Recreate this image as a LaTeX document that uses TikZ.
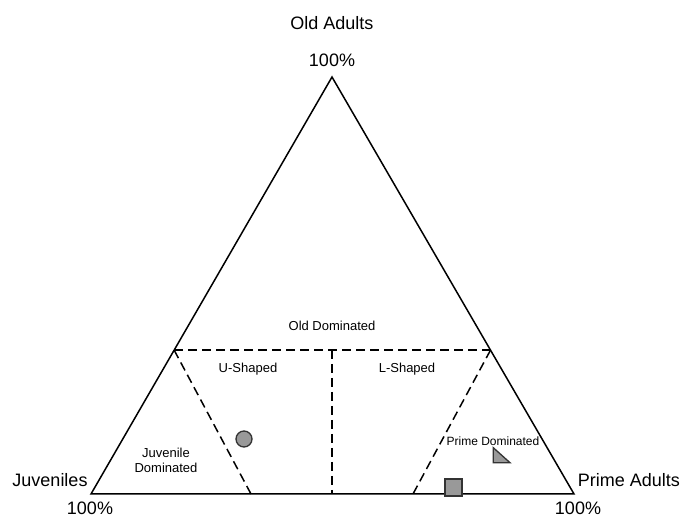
\documentclass[tikz,border=0pt]{standalone}
\usepackage{fontspec}
\setmainfont{Liberation Sans}
\usetikzlibrary{calc}

\begin{document}
\begin{tikzpicture}[x=1pt,y=1pt,
		big/.style={font=\fontsize{18}{20}\selectfont},
		small/.style={font=\fontsize{13}{15}\selectfont,align=center},
		zone/.style={line width=1.5pt,dash pattern=on 9pt off 5pt},
		marker/.style={draw=black!80,fill=black!40,line width=1.3pt,inner sep=0pt}]
		\useasboundingbox (0,0) rectangle (694,517);
		\coordinate (juv) at (91,23);
		\coordinate (prime) at (574,23);
		\coordinate (old) at (332,440);
		\draw[line width=1.5pt,line join=miter] (juv)--(prime)--(old)--cycle;
		% boundaries of the zones
		\coordinate (l) at ($(juv)!0.345!(old)$);
		\coordinate (r) at ($(prime)!0.345!(old)$);
		\coordinate (m) at (332,167);
		\coordinate (lb) at (251,23);
		\coordinate (rb) at (413,23);
		\coordinate (mb) at (332,23);
		\draw[zone] (l)--(r);
		\draw[zone] (m)--(mb);
		\draw[zone] (l)--(lb);
		\draw[zone] (r)--(rb);
		% corner labels
		\node[big] (oldname) at (332,494) {Old Adults};
		\node[big] (oldpct) at (332,457) {100\%};
		\node[big] (juvname) at (50,37) {Juveniles};
		\node[big] (juvpct) at (90,9) {100\%};
		\node[big] (primename) at (629,37) {Prime Adults};
		\node[big] (primepct) at (578,9) {100\%};
		% zone labels
		\node[small] (olddom) at (332,191) {Old Dominated};
		\node[small] (ushape) at (248,148) {U-Shaped};
		\node[small] (lshape) at (407,148) {L-Shaped};
		\node[small,font=\fontsize{13}{15}\selectfont] (juvdom) at (166,57) {Juvenile\\Dominated};
		\node[small,font=\fontsize{12}{14}\selectfont] (primedom) at (493,76) {Prime Dominated};
		% data points
		\node[marker,circle,minimum size=16pt] (dot) at (244,78) {};
		\node[marker,rectangle,minimum size=17pt] (box) at (453.5,29.5) {};
		\draw[marker,line join=miter] (493.3,69.3)--(493.3,54.3)--(510,54.3)--cycle;
	\end{tikzpicture}
\end{document}
